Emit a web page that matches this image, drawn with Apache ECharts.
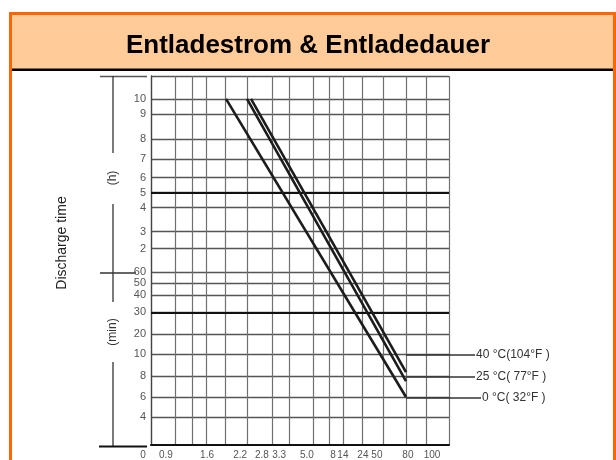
<!DOCTYPE html>
<html lang="de">

<head>
    <meta charset="UTF-8">
    <title>Entladestrom &amp; Entladedauer</title>
    <script src="https://cdn.jsdelivr.net/npm/echarts@6/dist/echarts.min.js"></script>
    <style>
        html, body { margin: 0; padding: 0; background: #fff; }
        #main { width: 616px; height: 460px; }
    </style>
</head>

<body>
    <div id="main"></div>
    <script>
        // axis positions are in % of plot width / height (the scan uses an uneven scale)
        var xGrid = [0, 8.05, 13.76, 18.46, 24.83, 32.21, 40.6, 46.31, 54.36, 59.73, 64.43, 70.81, 77.85, 85.57, 92.28, 100];
        var xLabels = ['0', '0.9', '1.6', '2.2', '2.8', '3.3', '5.0', '8', '14', '24', '50', '80', '100'];
        var xLabelPos = [0, 5.0, 18.8, 29.9, 37.2, 43.0, 52.3, 61.1, 64.4, 71.1, 75.8, 86.2, 94.3];

        var yLabels = ['4', '6', '8', '10', '20', '30', '40', '50', '60', '2', '3', '4', '5', '6', '7', '8', '9', '10'];
        var yLabelPos = [7.57, 12.97, 18.65, 24.59, 30.0, 35.95, 40.54, 43.78, 46.76, 53.24, 57.84, 64.32, 68.38, 72.43, 77.57, 82.97, 89.73, 93.78];
        var yGrid = yLabelPos.concat([100]);
        var yBold = [35.95, 68.38]; // 30 min and 5 h lines

        var tempNames = ['40 °C(104°F )', '25 °C( 77°F )', '0 °C( 32°F )'];
        var line40 = [[33.56, 93.78], [85.57, 19.73]];
        var line25 = [[32.21, 93.78], [85.57, 17.3]];
        var line0 = [[25.17, 93.78], [85.57, 13.0]];
        // leaders live in a small second grid to the right (0 = 80 line, 1 = label end)
        var leaderY = [24.59, 18.65, 12.97];
        var leaderEnd = [0.92, 0.92, 1.0];

        var font = 'Liberation Sans, Arial, sans-serif';
        var chart = echarts.init(document.getElementById('main'));

        var curves = [line40, line25, line0];
        var series = [];
        curves.forEach(function (pts, i) {
            series.push({
                type: 'line',
                data: pts,
                symbol: 'none',
                silent: true,
                lineStyle: { color: '#1c1c1c', width: 2.6 },
                z: 5
            });
            series.push({
                type: 'line',
                name: tempNames[i],
                xAxisIndex: 1,
                yAxisIndex: 1,
                data: [[0, leaderY[i]], [leaderEnd[i], leaderY[i]]],
                symbol: 'none',
                clip: false,
                silent: true,
                lineStyle: { color: '#333', width: 1.3 },
                endLabel: {
                    show: true,
                    formatter: '{a}',
                    distance: 1,
                    color: '#333',
                    fontSize: 12,
                    fontFamily: font
                }
            });
        });
        // thicker grid lines
        series[0].markLine = {
            silent: true,
            symbol: 'none',
            label: { show: false },
            lineStyle: { color: '#111', width: 2, type: 'solid' },
            data: yBold.map(function (v) { return { yAxis: v }; })
        };

        chart.setOption({
            animation: false,
            title: {
                text: 'Entladestrom & Entladedauer',
                left: 'center',
                top: 28,
                textStyle: { fontSize: 26, fontWeight: 'bold', color: '#000', fontFamily: font }
            },
            grid: [
                { left: 151, right: 167, top: 76, bottom: 14 },
                { left: 406, right: 135, top: 76, bottom: 14 }
            ],
            xAxis: [{
                type: 'value',
                min: 0,
                max: 100,
                axisLine: { show: true, onZero: false, lineStyle: { color: '#111', width: 2 } },
                axisTick: { show: false, customValues: xGrid },
                splitLine: { show: true, lineStyle: { color: '#707070', width: 1.2 } },
                axisLabel: {
                    customValues: xLabelPos,
                    margin: 5,
                    color: '#555',
                    fontSize: 10,
                    fontFamily: font,
                    formatter: function (v) {
                        var i = xLabelPos.indexOf(v);
                        if (i === 0) return '{z|0}';
                        return i >= 0 ? xLabels[i] : '';
                    },
                    rich: { z: { padding: [0, 16, 0, 0], fontSize: 10, color: '#555' } }
                }
            }, {
                type: 'value',
                gridIndex: 1,
                min: 0,
                max: 1,
                show: false
            }],
            yAxis: [{
                type: 'value',
                min: 0,
                max: 100,
                axisLine: { show: true, lineStyle: { color: '#444', width: 1.3 } },
                axisTick: { show: false, customValues: yGrid },
                splitLine: { show: true, lineStyle: { color: '#555', width: 1.3 } },
                axisLabel: {
                    customValues: yLabelPos,
                    margin: 5,
                    color: '#555',
                    fontSize: 11,
                    fontFamily: font,
                    formatter: function (v) {
                        var i = yLabelPos.indexOf(v);
                        return i >= 0 ? yLabels[i] : '';
                    }
                }
            }, {
                type: 'value',
                gridIndex: 1,
                min: 0,
                max: 100,
                show: false
            }],
            graphic: [
                // card frame and header band
                { type: 'rect', z: -10, shape: { x: 12, y: 15, width: 601, height: 54 }, style: { fill: '#FFCC99' } },
                { type: 'rect', z: -9, shape: { x: 12, y: 68.5, width: 601, height: 2.5 }, style: { fill: '#000' } },
                { type: 'rect', z: 50, shape: { x: 10.5, y: 13.5, width: 604, height: 460 }, style: { fill: null, stroke: '#FF6600', lineWidth: 3 } },
                // left bracket with units
                { type: 'line', shape: { x1: 100, y1: 76.5, x2: 147, y2: 76.5 }, style: { stroke: '#555', lineWidth: 1.3 } },
                { type: 'line', shape: { x1: 113, y1: 76, x2: 113, y2: 153 }, style: { stroke: '#333', lineWidth: 1.3 } },
                { type: 'line', shape: { x1: 113, y1: 204, x2: 113, y2: 302 }, style: { stroke: '#333', lineWidth: 1.3 } },
                { type: 'line', shape: { x1: 113, y1: 362, x2: 113, y2: 446 }, style: { stroke: '#333', lineWidth: 1.3 } },
                { type: 'line', shape: { x1: 100, y1: 273, x2: 136, y2: 273 }, style: { stroke: '#333', lineWidth: 1.3 } },
                { type: 'line', shape: { x1: 99, y1: 446.5, x2: 147, y2: 446.5 }, style: { stroke: '#111', lineWidth: 2 } },
                { type: 'text', x: 113, y: 178, rotation: Math.PI / 2, style: { text: '(h)', fill: '#333', font: '12px ' + font, align: 'center', verticalAlign: 'middle' } },
                { type: 'text', x: 113, y: 332, rotation: Math.PI / 2, style: { text: '(min)', fill: '#333', font: '12px ' + font, align: 'center', verticalAlign: 'middle' } },
                { type: 'text', x: 62, y: 243, rotation: Math.PI / 2, style: { text: 'Discharge time', fill: '#222', font: '14px ' + font, align: 'center', verticalAlign: 'middle' } }
            ],
            series: series
        });
    </script>
</body>

</html>
